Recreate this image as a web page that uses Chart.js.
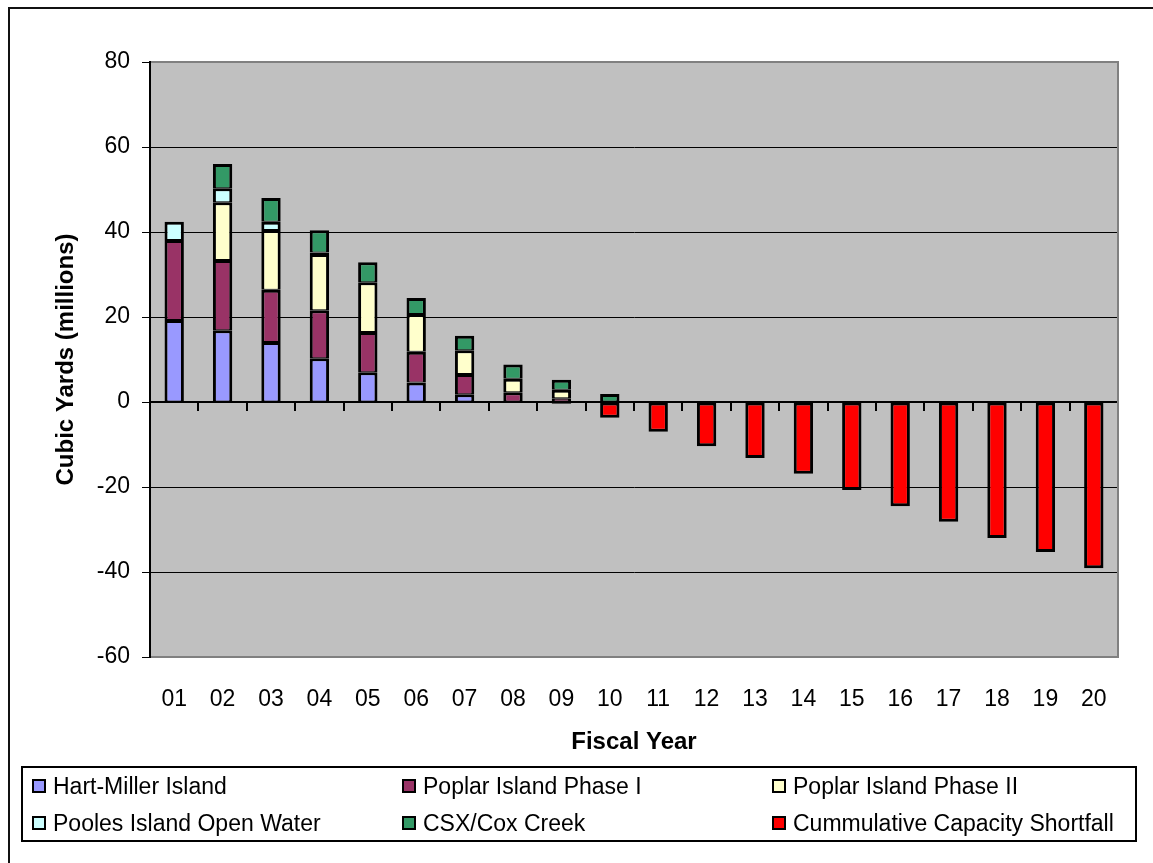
<!DOCTYPE html>
<html>
<head>
<meta charset="utf-8">
<script src="https://cdn.jsdelivr.net/npm/chart.js@4/dist/chart.umd.min.js"></script>
<style>
  html, body { margin: 0; padding: 0; background: #fff; overflow: hidden; }
  #wrap { position: relative; width: 1153px; height: 863px; overflow: hidden; }
  #frame { position: absolute; left: 8px; top: 7px; width: 2000px; height: 2000px; border: 2px solid #111; }
  #c { position: absolute; left: 0; top: 0; }
  #lg { position: absolute; left: 21px; top: 766px; width: 1116px; height: 76px; box-sizing: border-box;
        border: 2px solid #000; font-family: 'Liberation Sans', Arial, sans-serif; font-size: 23px; color: #000; }
  .it { position: absolute; height: 26px; line-height: 26px; white-space: nowrap; }
  .it i { position: absolute; left: 0; top: 6px; width: 10px; height: 10px; border: 2px solid #000; }
  .it span { position: absolute; left: 21px; top: 0; }
</style>
</head>
<body>
<div id="wrap">
  <div id="frame"></div>
  <canvas id="c" width="1153" height="863"></canvas>
  <div id="lg"></div>
</div>
<script>
/* ── Données (millions de yards cubes) ── */
const YEARS     = ['01','02','03','04','05','06','07','08','09','10','11','12','13','14','15','16','17','18','19','20'];
const HART      = [19.3,16.9,14.1,10.3,7.0,4.6,1.8,null,null,null,null,null,null,null,null,null,null,null,null,null];
const POPLAR1   = [18.8,16.5,12.3,11.3,9.5,7.2,4.8,2.3,0.9,null,null,null,null,null,null,null,null,null,null,null];
const POPLAR2   = [null,13.6,14.1,13.2,11.7,8.9,5.6,3.2,2.0,null,null,null,null,null,null,null,null,null,null,null];
const POOLES    = [4.3,3.3,1.9,0.4,null,null,null,null,null,null,null,null,null,null,null,null,null,null,null,null];
const CSX       = [null,5.7,5.6,5.2,4.7,3.8,3.4,3.3,2.35,1.9,null,null,null,null,null,null,null,null,null,null];
const SHORTFALL = [null,null,null,null,null,null,null,null,-0.4,-3.7,-7.0,-10.4,-13.2,-16.9,-20.7,-24.5,-28.2,-32.0,-35.3,-39.1];
const Y_TICKS   = [-60,-40,-20,0,20,40,60,80];

const FONT = "'Liberation Sans', Arial, sans-serif";

const SERIES = [
  { label: 'Hart-Miller Island',             data: HART,      color: '#9999FF' },
  { label: 'Poplar Island Phase I',          data: POPLAR1,   color: '#993366' },
  { label: 'Poplar Island Phase II',         data: POPLAR2,   color: '#FFFFCC' },
  { label: 'Pooles Island Open Water',       data: POOLES,    color: '#CCFFFF' },
  { label: 'CSX/Cox Creek',                  data: CSX,       color: '#339966' },
  { label: 'Cummulative Capacity Shortfall', data: SHORTFALL, color: '#FF0000' },
];

/* ── Fond gris + bordure du graphique ── */
const plotFrame = {
  id: 'plotFrame',
  beforeDraw(chart) {
    const { ctx, chartArea: a } = chart;
    ctx.save();
    ctx.fillStyle = '#C0C0C0';
    ctx.fillRect(a.left, a.top, a.right - a.left, a.bottom - a.top);
    ctx.restore();
  },
  beforeDatasetsDraw(chart) {
    const { ctx, chartArea: a } = chart;
    ctx.save();
    ctx.strokeStyle = '#808080';
    ctx.lineWidth = 2;
    ctx.beginPath();
    ctx.moveTo(a.left + 1, a.top);
    ctx.lineTo(a.right, a.top);
    ctx.lineTo(a.right, a.bottom);
    ctx.lineTo(a.left + 1, a.bottom);
    ctx.stroke();
    ctx.restore();
  },
};

new Chart(document.getElementById('c'), {
  type: 'bar',
  data: {
    labels: YEARS,
    datasets: SERIES.map((s, i) => ({
      label: s.label,
      data: s.data,
      backgroundColor: s.color,
      borderColor: '#000',
      // empilement positif : bord bas fin pour ne pas doubler les jonctions
      borderWidth: i < 5 ? { top: 3, bottom: 1, left: 3, right: 3 } : 3,
      borderSkipped: false,
      barPercentage: 0.4,
      categoryPercentage: 1,
    })),
  },
  options: {
    responsive: false,
    animation: false,
    layout: { padding: { left: 0, top: 62, right: 35, bottom: 106 } },
    plugins: { legend: { display: false }, tooltip: { enabled: false } },
    scales: {
      x: {
        stacked: true,
        grid: { display: false, drawTicks: false },
        border: { display: false },
        ticks: { color: '#000', font: { family: FONT, size: 23 }, padding: 29, maxRotation: 0, autoSkip: false },
        title: { display: true, text: 'Fiscal Year', color: '#000', font: { family: FONT, size: 24, weight: 'bold' }, padding: 0 },
        afterFit: s => { s.height = 100; },
      },
      x2: {
        type: 'category',
        axis: 'x',
        labels: YEARS,
        position: { y: 0 },
        offset: true,
        grid: { offset: true, drawOnChartArea: false, drawTicks: true, tickLength: 8, color: '#000', lineWidth: 2 },
        border: { display: true, color: '#000', width: 2 },
        ticks: { display: false },
      },
      y: {
        stacked: true,
        min: -60,
        max: 80,
        afterBuildTicks: s => { s.ticks = Y_TICKS.map(v => ({ value: v })); },
        ticks: { color: '#000', font: { family: FONT, size: 23 }, padding: 12 },
        grid: { color: '#000', lineWidth: 1, tickLength: 8 },
        border: { color: '#000', width: 2 },
        title: { display: true, text: 'Cubic Yards (millions)', color: '#000', font: { family: FONT, size: 24, weight: 'bold' }, padding: { top: 52, bottom: 0 } },
        afterFit: s => { s.width = 150; },
      },
    },
  },
  plugins: [plotFrame],
});

/* ── Légende (3 colonnes x 2 lignes) ── */
const LG_X = [9, 379, 749];
const LG_Y = [5, 42];
const lg = document.getElementById('lg');
SERIES.forEach((s, i) => {
  const d = document.createElement('div');
  d.className = 'it';
  d.style.left = LG_X[i % 3] + 'px';
  d.style.top  = LG_Y[Math.floor(i / 3)] + 'px';
  d.innerHTML = `<i style="background:${s.color}"></i><span>${s.label}</span>`;
  lg.appendChild(d);
});
</script>
</body>
</html>
